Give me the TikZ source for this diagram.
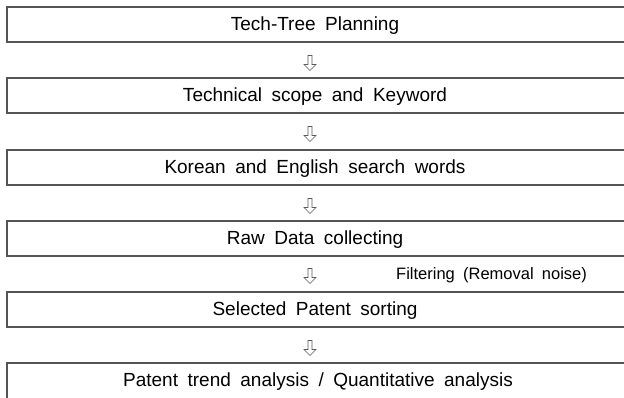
\documentclass[tikz,border=0pt]{standalone}
\usepackage{fontspec}
\setmainfont{Liberation Sans}
\usetikzlibrary{shapes.arrows}
\definecolor{rulegray}{HTML}{555555}

\newcommand{\widespaces}{\spaceskip=0.5em\relax}

\begin{document}
\begin{tikzpicture}[
    x=1pt, y=-1pt,
    label/.style={
        font=\fontsize{19}{22}\selectfont\widespaces,
        inner sep=0pt
    },
    note/.style={
        font=\fontsize{16.5}{20}\selectfont\widespaces,
        inner sep=0pt
    },
    downarrow/.style={
        single arrow,
        draw=black!65,
        line width=0.6pt,
        shape border rotate=270,
        minimum height=15pt,
        minimum width=12pt,
        single arrow head extend=3.2pt,
        single arrow head indent=0pt,
        inner sep=1.3pt
    },
    rule/.style={
        draw=rulegray,
        line width=1.3pt
    }
]
\useasboundingbox (0,0) rectangle (624,397);

% ============================================================
% Stages: top edge of each box
% ============================================================

\foreach \ytop/\stage/\txt in {
    7/plan/{Tech-Tree Planning},
    78/scope/{Technical scope and Keyword},
    150/words/{Korean and English search words},
    221/raw/{Raw Data collecting},
    292/sorted/{Selected Patent sorting}} {
    \draw[rule] (640,\ytop) -- (7,\ytop) -- (7,\ytop+35) -- (640,\ytop+35);
    \node[label] (\stage) at (315,\ytop+18.5) {\txt};
}

% last box runs past the lower edge
\draw[rule] (640,363) -- (7,363) -- (7,400);
\node[label] (trend) at (318,382) {Patent trend analysis / Quantitative analysis};

% ============================================================
% Arrows between the stages
% ============================================================

\foreach \ymid/\arr in {62/a1, 133/a2, 205/a3, 275/a4, 347/a5} {
    \node[downarrow] (\arr) at (310,\ymid) {};
}

\node[note, anchor=west] (filter) at (396,275) {Filtering (Removal noise)};

\end{tikzpicture}
\end{document}
